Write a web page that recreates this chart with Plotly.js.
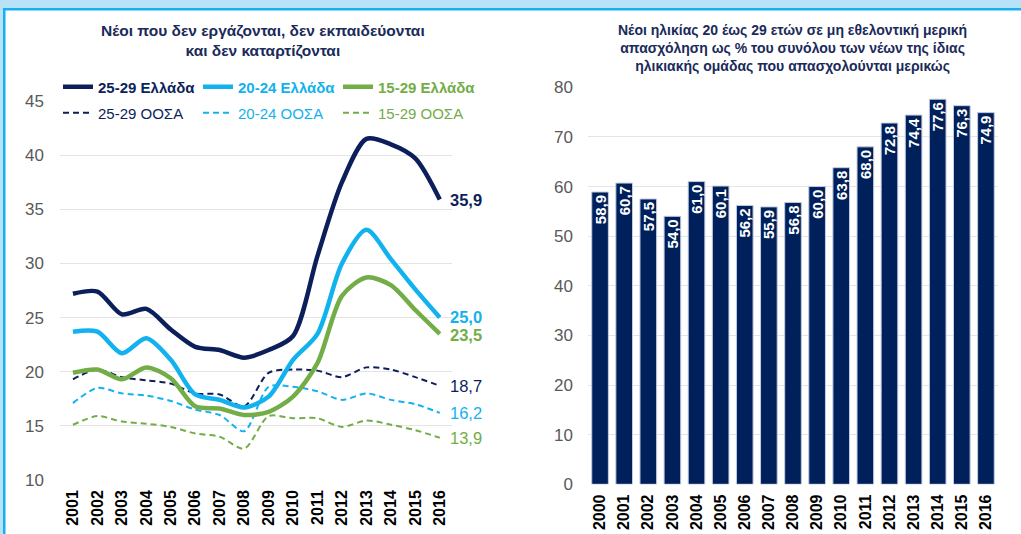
<!DOCTYPE html>
<html>
<head>
<meta charset="utf-8">
<script src="https://cdn.plot.ly/plotly-3.0.1.min.js"></script>
<style>
  html, body { margin: 0; padding: 0; background: #ffffff; }
  #grafica { width: 1021px; height: 534px; }
</style>
</head>
<body>
<div id="grafica"></div>
<script>
// left chart: NEETs, % of age group
var years = [2001, 2002, 2003, 2004, 2005, 2006, 2007, 2008, 2009, 2010, 2011, 2012, 2013, 2014, 2015, 2016];
var gr2529 = [27.2, 27.4, 25.3, 25.8, 23.9, 22.3, 22.0, 21.3, 22.0, 23.3, 30.7, 37.5, 41.5, 41.0, 39.7, 35.9];
var gr2024 = [23.7, 23.7, 21.7, 23.1, 21.1, 17.9, 17.4, 16.7, 17.7, 21.1, 23.5, 30.0, 33.1, 30.4, 27.6, 25.0];
var gr1529 = [19.9, 20.2, 19.3, 20.4, 19.4, 16.8, 16.6, 16.0, 16.3, 17.7, 20.8, 27.0, 28.7, 28.0, 25.7, 23.5];
var oe2529 = [19.3, 20.2, 19.5, 19.2, 18.9, 18.0, 17.9, 16.8, 19.9, 20.2, 20.1, 19.5, 20.4, 20.2, 19.5, 18.7];
var oe2024 = [17.1, 18.5, 18.0, 17.8, 17.3, 16.5, 16.0, 14.5, 18.6, 18.6, 18.2, 17.4, 18.0, 17.4, 17.0, 16.2];
var oe1529 = [15.1, 15.9, 15.4, 15.2, 14.9, 14.3, 14.0, 12.9, 15.9, 15.7, 15.7, 14.9, 15.5, 15.1, 14.6, 13.9];

// right chart: involuntary part-time, 20-29
var barYears = ['2000', '2001', '2002', '2003', '2004', '2005', '2006', '2007', '2008', '2009', '2010', '2011', '2012', '2013', '2014', '2015', '2016'];
var barVals = [58.9, 60.7, 57.5, 54.0, 61.0, 60.1, 56.2, 55.9, 56.8, 60.0, 63.8, 68.0, 72.8, 74.4, 77.6, 76.3, 74.9];

var navy = '#0c1f5b';
var blue = '#12b2ee';
var green = '#72ad47';
var W = 1021, H = 534;

function px(x) { return x / W; }
function py(y) { return (H - y) / H; }
function fmt(v) { return v.toFixed(1).replace('.', ','); }

function solid(y, name, color, leg) {
  return {
    x: years, y: y, type: 'scatter', mode: 'lines', legend: leg,
    name: '<b><span style="color:' + color + '">' + name + '</span></b>',
    line: { color: color, width: 4.5, shape: 'spline', smoothing: 0.8 },
    hoverinfo: 'skip'
  };
}
function dashed(y, name, color, leg) {
  return {
    x: years, y: y, type: 'scatter', mode: 'lines', legend: leg,
    name: '<span style="color:' + color + '">' + name + '</span>',
    line: { color: color, width: 2, dash: '6px,4px', shape: 'spline', smoothing: 0.8 },
    hoverinfo: 'skip'
  };
}

var data = [
  dashed(oe2529, '25-29 ΟΟΣΑ', navy, 'legend4'),
  dashed(oe2024, '20-24 ΟΟΣΑ', blue, 'legend5'),
  dashed(oe1529, '15-29 ΟΟΣΑ', green, 'legend6'),
  solid(gr2529, '25-29 Ελλάδα', navy, 'legend'),
  solid(gr2024, '20-24 Ελλάδα', blue, 'legend2'),
  solid(gr1529, '15-29 Ελλάδα', green, 'legend3'),
  {
    x: barYears, y: barVals, type: 'bar', xaxis: 'x2', yaxis: 'y2', showlegend: false,
    marker: { color: '#00205b', line: { color: '#c3cbe0', width: 1 } },
    text: barVals.map(fmt),
    texttemplate: '<b>%{text}</b>', textposition: 'inside', insidetextanchor: 'end',
    textangle: -90, constraintext: 'none',
    textfont: { color: '#ffffff', size: 15 },
    hoverinfo: 'skip'
  }
];

// end-of-line labels: series, colour, bold, vertical nudge
var lastLabels = [
  [gr2529, navy, true, 0], [gr2024, blue, true, 1], [gr1529, green, true, -1],
  [oe2529, navy, false, 0], [oe2024, blue, false, 0], [oe1529, green, false, 0]
];

var annotations = [
  {
    xref: 'paper', yref: 'paper', x: px(263), y: py(40.5), xanchor: 'center', yanchor: 'middle',
    text: '<b>Νέοι που δεν εργάζονται, δεν εκπαιδεύονται<br>και δεν καταρτίζονται</b>',
    showarrow: false, font: { size: 15.5, color: '#1a2a5a' }
  },
  {
    xref: 'paper', yref: 'paper', x: px(792), y: py(48), xanchor: 'center', yanchor: 'middle',
    text: '<b>Νέοι ηλικίας 20 έως 29 ετών σε μη εθελοντική μερική<br>απασχόληση ως % του συνόλου των νέων της ίδιας<br>ηλικιακής ομάδας που απασχολούνται μερικώς</b>',
    showarrow: false, font: { size: 14, color: '#1a2a5a' }
  }
];
lastLabels.forEach(function (l) {
  var v = l[0][l[0].length - 1];
  annotations.push({
    xref: 'x', yref: 'y', x: years[years.length - 1], y: v, xanchor: 'left', yanchor: 'middle',
    xshift: 8, yshift: l[3], showarrow: false,
    text: l[2] ? '<b>' + fmt(v) + '</b>' : fmt(v),
    font: { size: 16.5, color: l[1] }
  });
});

function leg(xpx, ypx) {
  return {
    orientation: 'h', x: px(xpx), y: py(ypx), xanchor: 'left', yanchor: 'middle',
    font: { size: 15 }, bgcolor: 'rgba(0,0,0,0)'
  };
}

var layout = {
  width: W, height: H,
  margin: { l: 0, r: 0, t: 0, b: 0 },
  paper_bgcolor: '#ffffff', plot_bgcolor: '#ffffff',
  font: { family: 'Liberation Sans, Arial, sans-serif', color: '#595959' },
  bargap: 0.31,
  xaxis: {
    domain: [px(60), px(452)], range: [2000.47, 2016.5],
    tickvals: years, ticktext: years.map(String), tickangle: -90,
    tickfont: { size: 16, color: '#000000', weight: 'bold' },
    showgrid: false, zeroline: false, showline: false, ticks: '', ticklabelstandoff: 6
  },
  yaxis: {
    domain: [py(480), py(101)], range: [10, 45], dtick: 5,
    tickfont: { size: 17, color: '#595959' },
    gridcolor: '#e4e4e4', gridwidth: 1, zeroline: false, showline: false, ticks: '',
    ticklabelstandoff: 15
  },
  xaxis2: {
    domain: [px(588), px(998)], anchor: 'y2', type: 'category', tickangle: -90,
    tickfont: { size: 16, color: '#000000', weight: 'bold' },
    showgrid: false, zeroline: false, showline: false, ticks: '', ticklabelstandoff: 6
  },
  yaxis2: {
    domain: [py(484.3), py(87.3)], anchor: 'x2', range: [0, 80], dtick: 10,
    tickfont: { size: 17, color: '#595959' },
    gridcolor: '#e4e4e4', gridwidth: 1, zeroline: false, showline: false, ticks: '',
    ticklabelstandoff: 14
  },
  legend: leg(58, 87),
  legend2: leg(198, 87),
  legend3: leg(338, 87),
  legend4: leg(58, 113),
  legend5: leg(198, 113),
  legend6: leg(338, 113),
  annotations: annotations,
  shapes: [
    { type: 'rect', xref: 'paper', yref: 'paper', x0: 0, x1: 1, y0: py(8), y1: 1, fillcolor: '#b7e2f7', line: { width: 0 }, layer: 'below' },
    { type: 'rect', xref: 'paper', yref: 'paper', x0: 0, x1: px(3), y0: 0, y1: 1, fillcolor: '#b7e2f7', line: { width: 0 }, layer: 'below' },
    { type: 'rect', xref: 'paper', yref: 'paper', x0: px(3), x1: 1, y0: py(10.5), y1: py(8), fillcolor: '#17b0ef', line: { width: 0 }, layer: 'below' },
    { type: 'rect', xref: 'paper', yref: 'paper', x0: px(3), x1: px(5.5), y0: 0, y1: py(8), fillcolor: '#17b0ef', line: { width: 0 }, layer: 'below' }
  ]
};

Plotly.newPlot('grafica', data, layout, { displayModeBar: false, staticPlot: true });
</script>
</body>
</html>
